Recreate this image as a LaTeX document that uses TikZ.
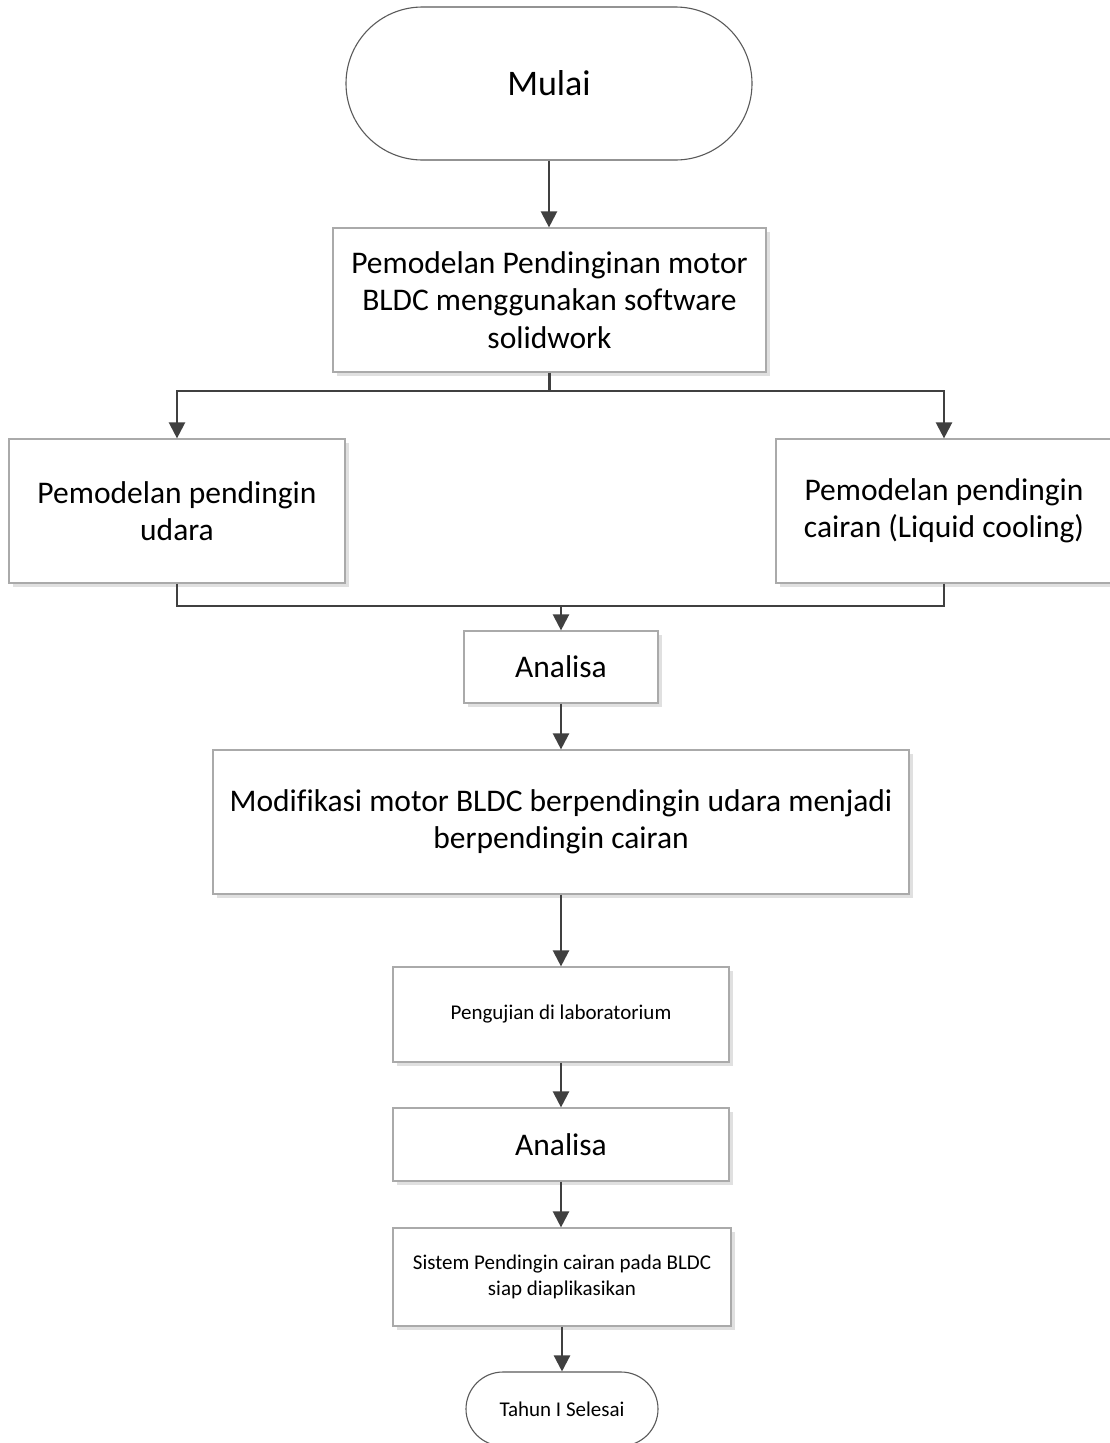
\documentclass[tikz,border=0pt]{standalone}
\usepackage{fontspec}
\setmainfont{Carlito}[Ligatures=NoCommon]
\usetikzlibrary{arrows.meta,shapes.misc,shadows}
\definecolor{linegray}{HTML}{404040}
\definecolor{boxgray}{HTML}{AAAAAA}
\definecolor{termgray}{HTML}{5A5A5A}
\tikzset{
  procbox/.style={draw=boxgray, line width=1.2pt, fill=white, rectangle, inner sep=0pt, align=center,
    drop shadow={shadow xshift=3.5pt, shadow yshift=-3.5pt, fill=black!12, opacity=1}},
  termbox/.style={draw=termgray, line width=1.1pt, fill=white, rounded rectangle, rounded rectangle arc length=180, inner sep=0pt, align=center},
  bigtext/.style={font=\fontsize{31.5pt}{37.5pt}\selectfont},
  smalltext/.style={font=\fontsize{21pt}{26pt}\selectfont},
  conn/.style={draw=linegray, line width=2.3pt},
  arr/.style={conn, -{Triangle[length=16pt,width=16pt]}}
}
\begin{document}
\begin{tikzpicture}[x=1pt,y=-1pt]
\useasboundingbox[fill=white] (0,0) rectangle (1109,1443);

\node[termbox, minimum width=406pt, minimum height=153pt, font=\fontsize{36pt}{43pt}\selectfont] (start) at (549,83.5) {Mulai};

\node[procbox, bigtext, minimum width=433pt, minimum height=144pt] (model) at (549.5,300) {Pemodelan Pendinginan motor\\BLDC menggunakan software\\solidwork};

\node[procbox, bigtext, minimum width=336pt, minimum height=144pt] (air) at (177,511) {Pemodelan pendingin\\udara};
\node[procbox, bigtext, minimum width=336pt, minimum height=144pt] (liquid) at (944,511) {Pemodelan pendingin\\cairan (Liquid cooling)};

\node[procbox, bigtext, minimum width=194pt, minimum height=72pt] (ana1) at (561,667) {Analisa};

\node[procbox, bigtext, minimum width=696pt, minimum height=144pt] (mod) at (561,822) {Modifikasi motor BLDC berpendingin udara menjadi\\berpendingin cairan};

\node[procbox, smalltext, minimum width=336pt, minimum height=95pt] (lab) at (561,1014.5) {Pengujian di laboratorium};

\node[procbox, bigtext, minimum width=336pt, minimum height=73pt] (ana2) at (561,1144.5) {Analisa};

\node[procbox, smalltext, minimum width=338pt, minimum height=98pt] (sys) at (562,1277) {Sistem Pendingin cairan pada BLDC\\siap diaplikasikan};

\node[termbox, smalltext, minimum width=192pt, minimum height=74pt] (finish) at (562,1409) {Tahun I Selesai};

\coordinate (split) at (549.5,391);
\coordinate (merge) at (561,606);

\draw[arr] (start.south) -- (start.south |- model.north);
\draw[conn] (model.south) -- (split);
\draw[arr] (split) -| (air.north);
\draw[arr] (split) -| (liquid.north);
\draw[conn] (air.south) |- (merge);
\draw[conn] (liquid.south) |- (merge);
\draw[arr] (merge) -- (merge |- ana1.north);
\draw[arr] (ana1.south) -- (ana1.south |- mod.north);
\draw[arr] (mod.south) -- (mod.south |- lab.north);
\draw[arr] (lab.south) -- (lab.south |- ana2.north);
\draw[arr] (ana2.south) -- (ana2.south |- sys.north);
\draw[arr] (sys.south) -- (sys.south |- finish.north);
\end{tikzpicture}
\end{document}
